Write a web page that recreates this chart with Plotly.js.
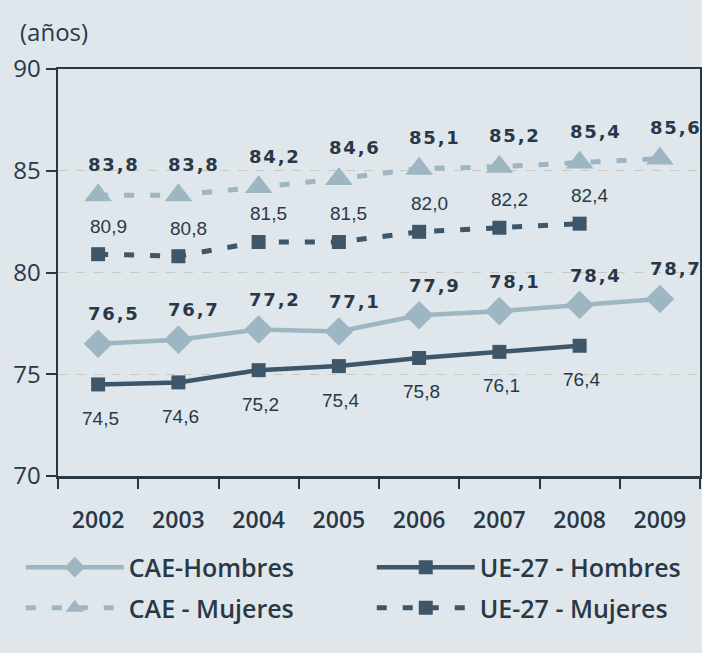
<!DOCTYPE html>
<html>
<head>
<meta charset="utf-8">
<script src="https://cdn.plot.ly/plotly-3.0.1.min.js"></script>
<style>
html,body{margin:0;padding:0;background:#dfe7ed;}
#chart{width:702px;height:653px;}
</style>
</head>
<body>
<div id="chart"></div>
<script>
const years = ['2002','2003','2004','2005','2006','2007','2008','2009'];
const caeHombres = [76.5, 76.7, 77.2, 77.1, 77.9, 78.1, 78.4, 78.7];
const ueHombres  = [74.5, 74.6, 75.2, 75.4, 75.8, 76.1, 76.4, null];
const caeMujeres = [83.8, 83.8, 84.2, 84.6, 85.1, 85.2, 85.4, 85.6];
const ueMujeres  = [80.9, 80.8, 81.5, 81.5, 82.0, 82.2, 82.4, null];
const yTicks = [70, 75, 80, 85, 90];

const LIGHT = '#9db6c2';
const DARK = '#3d566a';
const TEXT = '#2a3846';
const BG = '#dfe7ed';
const FONT = 'Open Sans, DejaVu Sans';

const fmt = v => v.toFixed(1).replace('.', ',');

const traces = [
  {name:'CAE-Hombres', x:years, y:caeHombres, type:'scatter', mode:'lines+markers', legend:'legend',
   line:{color:LIGHT, width:4.5}, marker:{symbol:'diamond', size:22, color:LIGHT}},
  {name:'UE-27 - Hombres', x:years, y:ueHombres, type:'scatter', mode:'lines+markers', legend:'legend',
   line:{color:DARK, width:4.5}, marker:{symbol:'square', size:14, color:DARK}},
  {name:'CAE - Mujeres', x:years, y:caeMujeres, type:'scatter', mode:'lines+markers', legend:'legend2',
   line:{color:LIGHT, width:5, dash:'10px,16px'}, marker:{symbol:'triangle-up', size:24, color:LIGHT}},
  {name:'UE-27 - Mujeres', x:years, y:ueMujeres, type:'scatter', mode:'lines+markers', legend:'legend2',
   line:{color:DARK, width:5, dash:'10px,16px'}, marker:{symbol:'square', size:14, color:DARK}}
];

const annotations = [];
function addLabels(arr, opts) {
  arr.forEach((v, i) => {
    if (v === null) return;
    annotations.push({
      x: i, y: v, xref:'x', yref:'y',
      text: opts.bold ? fmt(v).split('').join('\u200A') : fmt(v),
      showarrow:false, xanchor:'center', yanchor:'middle',
      xshift: opts.xshift, yshift: opts.yshift,
      font: opts.bold ? {family:'DejaVu Sans', size:18, color:TEXT, weight:700}
                      : {family:'Liberation Sans', size:19, color:TEXT}
    });
  });
}
addLabels(caeMujeres, {bold:true, xshift:15, yshift:31});
addLabels(caeHombres, {bold:true, xshift:15, yshift:30});
addLabels(ueMujeres, {bold:false, xshift:10, yshift:28});
addLabels(ueHombres, {bold:false, xshift:2, yshift:-34});

annotations.push({
  text:'(años)', xref:'paper', yref:'paper', x:-0.062, y:1.092, xanchor:'left', yanchor:'middle',
  showarrow:false, font:{family:FONT, size:24, color:TEXT}
});

const legendBase = {
  orientation:'h', x:-0.058, xanchor:'left', yanchor:'top',
  entrywidth:238, entrywidthmode:'pixels', itemwidth:98, bgcolor:'rgba(0,0,0,0)', borderwidth:0,
  font:{family:FONT, size:25, color:TEXT, weight:600}
};

const layout = {
  width:702, height:653,
  paper_bgcolor:BG, plot_bgcolor:BG,
  margin:{l:58, r:2, t:69, b:177, autoexpand:false},
  showlegend:true,
  legend:Object.assign({}, legendBase, {y:-0.168}),
  legend2:Object.assign({}, legendBase, {y:-0.268}),
  xaxis:{type:'category', tickson:'boundaries', ticks:'outside', ticklen:10, tickwidth:2, tickcolor:TEXT,
         showline:true, linecolor:TEXT, linewidth:2.5, mirror:true, showgrid:false,
         ticklabelstandoff:22,
         tickfont:{family:FONT, size:23, color:TEXT, weight:600},
         range:[-0.5, 7.5]},
  yaxis:{range:[70,90], tickvals:yTicks, ticktext:yTicks.map(String), ticks:'outside', ticklen:10, tickwidth:2, tickcolor:TEXT,
         showline:true, linecolor:TEXT, linewidth:2.5, mirror:true,
         showgrid:true, gridcolor:'#c9c9c2', griddash:'dash', gridwidth:1, zeroline:false,
         tickfont:{family:FONT, size:24, color:TEXT}},
  annotations:annotations
};

Plotly.newPlot('chart', traces, layout, {displayModeBar:false, staticPlot:true});
</script>
</body>
</html>
